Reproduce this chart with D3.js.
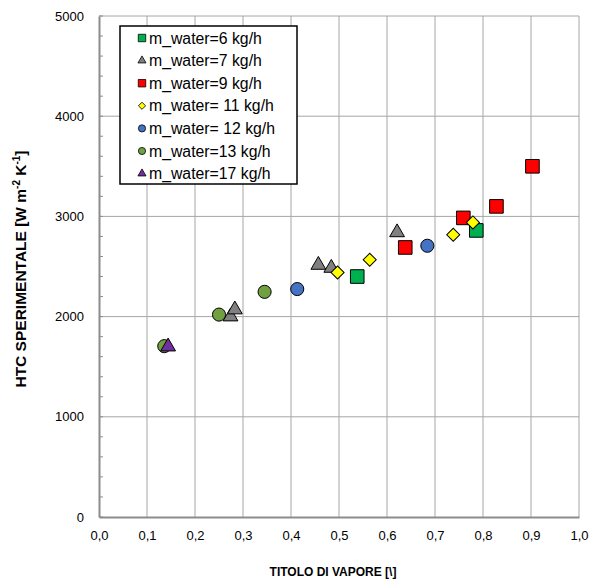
<!DOCTYPE html>
<html>
<head>
<meta charset="utf-8">
<script src="https://cdn.jsdelivr.net/npm/d3@7"></script>
<style>
  body { margin: 0; background: #fff; }
  text { font-family: "Liberation Sans", Arial, sans-serif; }
</style>
</head>
<body>
<div id="chart"></div>
<script>
// series names (legend order = drawing order)
const seriesNames = ["m_water=6 kg/h", "m_water=7 kg/h", "m_water=9 kg/h", "m_water= 11 kg/h",
  "m_water= 12 kg/h", "m_water=13 kg/h", "m_water=17 kg/h"];

// x = titolo di vapore, y = HTC
const x6 = [0.538, 0.786];
const y6 = [2400, 2860];
const x7 = [0.274, 0.283, 0.457, 0.484, 0.621];
const y7 = [2000, 2070, 2515, 2485, 2840];
const x9 = [0.638, 0.759, 0.828, 0.903];
const y9 = [2690, 2985, 3100, 3500];
const x11 = [0.497, 0.564, 0.738, 0.779];
const y11 = [2440, 2567, 2817, 2940];
const x12 = [0.413, 0.684];
const y12 = [2275, 2707];
const x13 = [0.136, 0.25, 0.345];
const y13 = [1705, 2020, 2247];
const x17 = [0.144];
const y17 = [1700];

const xTicks = [0, 0.1, 0.2, 0.3, 0.4, 0.5, 0.6, 0.7, 0.8, 0.9, 1.0];
const yTicks = [0, 1000, 2000, 3000, 4000, 5000];

const xs = [x6, x7, x9, x11, x12, x13, x17];
const ys = [y6, y7, y9, y11, y12, y13, y17];

// marker style per series (diamond = square turned 45 deg)
const shapes = [d3.symbolSquare, d3.symbolTriangle, d3.symbolSquare, d3.symbolSquare,
  d3.symbolCircle, d3.symbolCircle, d3.symbolTriangle];
const rotate = [0, 0, 0, 45, 0, 0, 0];
const fills = ["#00b050", "#808080", "#ff0000", "#ffff00", "#4472c4", "#70a040", "#7030a0"];
const sizes = [185, 95, 185, 85, 135, 135, 95];

const width = 590, height = 579;
const margin = { top: 16, right: 11, bottom: 62, left: 99 };

const svg = d3.select("#chart").append("svg")
  .attr("width", width)
  .attr("height", height);

const x = d3.scaleLinear().domain([0, 1]).range([margin.left, width - margin.right]);
const y = d3.scaleLinear().domain([0, 5000]).range([height - margin.bottom, margin.top]);

// grid
svg.append("g")
  .selectAll("line")
  .data(xTicks.slice(1))
  .enter().append("line")
  .attr("x1", d => x(d)).attr("x2", d => x(d))
  .attr("y1", y(0)).attr("y2", y(5000))
  .attr("stroke", "#a6a6a6").attr("stroke-width", 1);

svg.append("g")
  .selectAll("line")
  .data(yTicks.slice(1))
  .enter().append("line")
  .attr("x1", x(0)).attr("x2", x(1))
  .attr("y1", d => y(d)).attr("y2", d => y(d))
  .attr("stroke", "#a6a6a6").attr("stroke-width", 1);

// y axis
const yAxis = svg.append("g")
  .attr("transform", `translate(${x(0)},0)`)
  .call(d3.axisLeft(y).tickValues(yTicks).tickSize(0).tickPadding(15).tickFormat(d3.format("d")));
yAxis.select(".domain").attr("stroke", "#8c8c8c").attr("stroke-width", 2);
yAxis.selectAll("text").attr("font-size", 13).attr("fill", "#000")
  .attr("font-family", "Liberation Sans, Arial, sans-serif");

// minor ticks on y, inside
svg.append("g")
  .selectAll("line")
  .data(d3.range(0, 5001, 200))
  .enter().append("line")
  .attr("x1", x(0)).attr("x2", x(0) + 4)
  .attr("y1", d => y(d)).attr("y2", d => y(d))
  .attr("stroke", "#8c8c8c");

// x axis
const fmt = d => d3.format(".1f")(d).replace(".", ",");
const xAxis = svg.append("g")
  .attr("transform", `translate(0,${y(0)})`)
  .call(d3.axisBottom(x).tickValues(xTicks).tickSize(0).tickPadding(14).tickFormat(fmt));
xAxis.select(".domain").attr("stroke", "#8c8c8c").attr("stroke-width", 2);
xAxis.selectAll("text").attr("font-size", 13).attr("fill", "#000")
  .attr("font-family", "Liberation Sans, Arial, sans-serif");

// axis titles
svg.append("text")
  .attr("x", 333).attr("y", 576)
  .attr("text-anchor", "middle")
  .attr("font-size", 12).attr("font-weight", "bold")
  .text("TITOLO DI VAPORE [\\]");

const yt = svg.append("text")
  .attr("transform", `translate(26,269) rotate(-90)`)
  .attr("text-anchor", "middle")
  .attr("font-size", 15.5).attr("font-weight", "bold");
yt.append("tspan").text("HTC SPERIMENTALE [W m");
yt.append("tspan").attr("dy", -6).attr("font-size", 10).text("-2");
yt.append("tspan").attr("dy", 6).text(" K");
yt.append("tspan").attr("dy", -6).attr("font-size", 10).text("-1");
yt.append("tspan").attr("dy", 6).text("]");

// points
seriesNames.forEach((name, i) => {
  const pts = xs[i].map((v, j) => [v, ys[i][j]]);
  svg.append("g")
    .selectAll("path")
    .data(pts)
    .enter().append("path")
    .attr("transform", d => `translate(${x(d[0])},${y(d[1])}) rotate(${rotate[i]})`)
    .attr("d", d3.symbol().type(shapes[i]).size(sizes[i])())
    .attr("fill", fills[i])
    .attr("stroke", "#000")
    .attr("stroke-width", 1);
});

// legend
const legend = svg.append("g").attr("transform", "translate(120,26)");
legend.append("rect")
  .attr("width", 177).attr("height", 158)
  .attr("fill", "#fff").attr("stroke", "#000").attr("stroke-width", 1.5);

seriesNames.forEach((name, i) => {
  const row = legend.append("g").attr("transform", `translate(0,${12 + i * 22.6})`);
  row.append("path")
    .attr("transform", `translate(22,0) rotate(${rotate[i]})`)
    .attr("d", d3.symbol().type(shapes[i]).size(sizes[i] * 0.3)())
    .attr("fill", fills[i])
    .attr("stroke", "#000")
    .attr("stroke-width", 0.8);
  row.append("text")
    .attr("x", 29).attr("y", 5.5)
    .attr("font-size", 15.8)
    .text(name);
});
</script>
</body>
</html>
